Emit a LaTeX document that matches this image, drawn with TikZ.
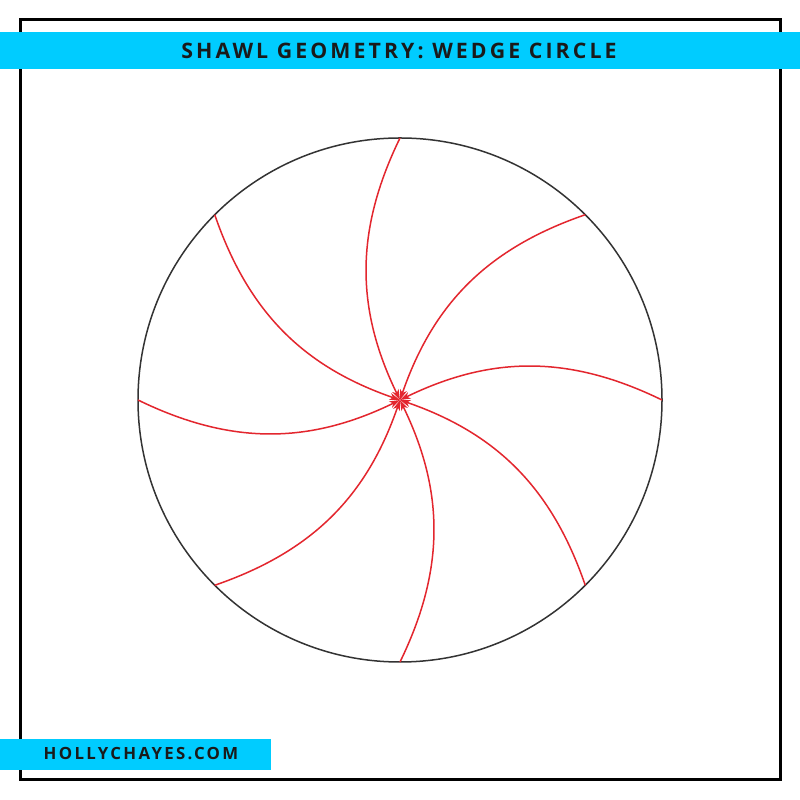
\documentclass[tikz,border=0pt]{standalone}
\usepackage{fontspec}
\setmainfont{Open Sans}
\newfontfamily\titlefont[LetterSpace=14.5]{Open Sans Bold}
\newfontfamily\footfont[LetterSpace=14]{Open Sans Bold}
\usetikzlibrary{arrows.meta,calc}
\definecolor{bannercyan}{HTML}{00CCFF}
\definecolor{spokered}{HTML}{E3262E}
\definecolor{rimgray}{HTML}{333333}
\definecolor{inkdark}{HTML}{1A1A1A}
\tikzset{
  frame/.style={draw=black,line width=3pt},
  banner/.style={fill=bannercyan,draw=none},
  rim/.style={draw=rimgray,line width=1.5pt},
  spoke/.style={draw=spokered,line width=1.5pt,-{Stealth[length=10.5pt,width=7pt,inset=3pt]},bend right=26},
  titletext/.style={text=inkdark,inner sep=0pt,anchor=center},
}
\begin{document}
\begin{tikzpicture}[x=1pt,y=1pt]
\useasboundingbox (0,0) rectangle (800,800);
\fill[white] (0,0) rectangle (800,800);
% frame
\draw[frame] (20,20) rectangle (780,780);
% banners
\fill[banner] (0,731) rectangle (800,767.5);
\fill[banner] (0,30) rectangle (271,61);
\node[titletext,font=\titlefont\fontsize{21.3}{24}\selectfont] (title) at (399,749) {SHAWL GEOMETRY: WEDGE CIRCLE};
\node[titletext,font=\footfont\fontsize{16.8}{20}\selectfont] (site) at (141,46) {HOLLYCHAYES.COM};
% circle
\coordinate (c) at (400,400);
\draw[rim] (c) circle (262);
\foreach \k in {0,...,7}{
  \coordinate (p\k) at ($(c)+({\k*45}:262)$);
}
\foreach \k in {0,...,7}{
  \draw[spoke] (p\k) to (c);
}
\end{tikzpicture}
\end{document}
